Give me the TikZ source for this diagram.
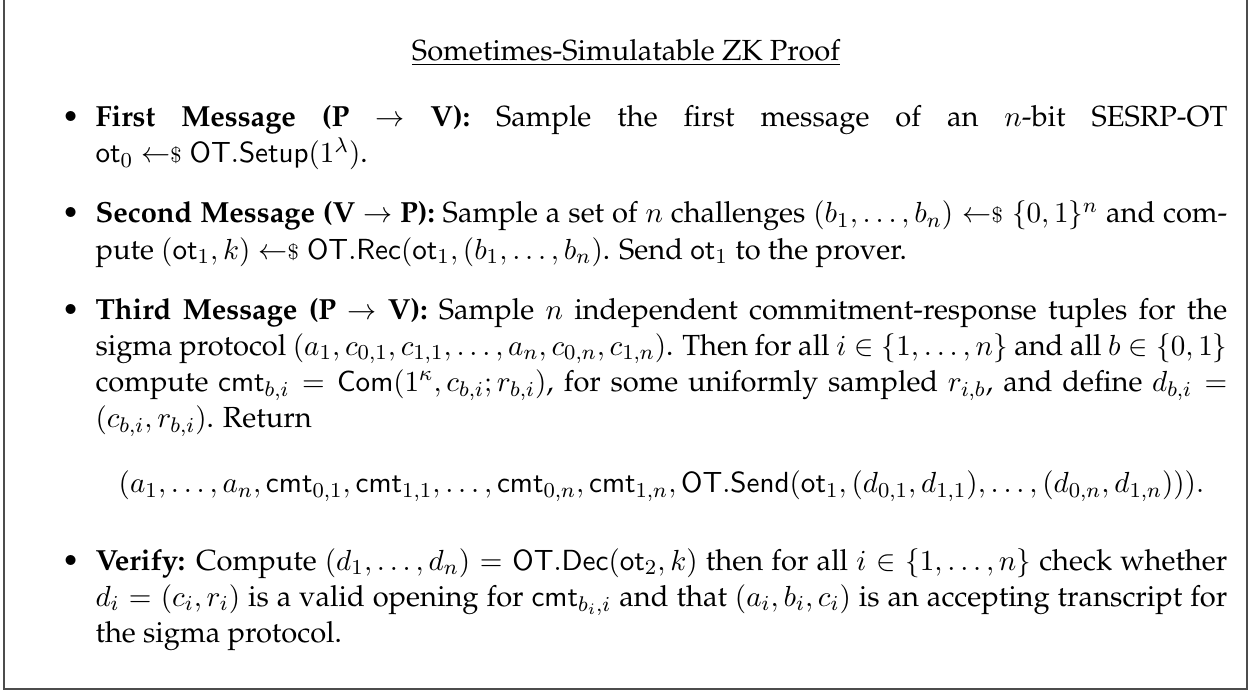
\documentclass[tikz,border=0pt,11pt]{standalone}
\usepackage[T1]{fontenc}
\renewcommand{\rmdefault}{ppl}
\newcommand{\smpl}{\mathrel{\leftarrow\mkern-5mu{\scriptstyle\$}}}
\tikzset{frame/.style={draw=black!70, line width=0.7pt}}
\begin{document}
\begin{tikzpicture}
\useasboundingbox (0,0) rectangle (471.6pt,261.6pt);
\draw[frame] (1.5pt,280pt) -- (1.5pt,2.26pt) -- (469.3pt,2.26pt) -- (469.3pt,280pt);
\node[anchor=base, inner sep=0] (title) at (235.6pt,239.0pt) {\normalsize\underline{Sometimes-Simulatable ZK Proof}};
\node[anchor=base west, inner sep=0] (body) at (15.75pt,213.9pt) {%
\begin{minipage}[t]{446pt}\normalsize
\setlength{\leftmargini}{20pt}\setlength{\labelsep}{6pt}
\begin{itemize}
\item \textbf{First Message (P $\rightarrow$ V):} Sample the first message of an $n$-bit SESRP-OT\linebreak $\mathsf{ot}_0 \smpl \mathsf{OT.Setup}(1^\lambda)$.
\item \textbf{Second Message (V $\rightarrow$ P):} Sample a set of $n$ challenges $(b_1,\ldots,b_n) \smpl \{0,1\}^n$ and com-\linebreak pute $(\mathsf{ot}_1,k)\smpl\mathsf{OT.Rec}(\mathsf{ot}_1,(b_1,\ldots,b_n)$. Send $\mathsf{ot}_1$ to the prover.
\item \textbf{Third Message (P $\rightarrow$ V):} Sample $n$ independent commitment-response tuples for the\linebreak sigma protocol $(a_1,c_{0,1},c_{1,1},\ldots,a_n,c_{0,n},c_{1,n})$. Then for all $i\in\{1,\ldots,n\}$ and all $b\in\{0,1\}$\linebreak compute $\mathsf{cmt}_{b,i} = \mathsf{Com}(1^\kappa, c_{b,i}; r_{b,i})$, for some uniformly sampled $r_{i,b}$, and define $d_{b,i} =$\linebreak $(c_{b,i},r_{b,i})$. Return
\[ (a_1,\ldots,a_n,\mathsf{cmt}_{0,1},\mathsf{cmt}_{1,1},\ldots,\mathsf{cmt}_{0,n},\mathsf{cmt}_{1,n},\mathsf{OT.Send}(\mathsf{ot}_1,(d_{0,1},d_{1,1}),\ldots,(d_{0,n},d_{1,n}))). \]
\item \textbf{Verify:} Compute $(d_1,\ldots,d_n) = \mathsf{OT.Dec}(\mathsf{ot}_2,k)$ then for all $i\in\{1,\ldots,n\}$ check whether\linebreak $d_i=(c_i,r_i)$ is a valid opening for $\mathsf{cmt}_{b_i,i}$ and that $(a_i,b_i,c_i)$ is an accepting transcript for\linebreak the sigma protocol.
\end{itemize}
\end{minipage}};
\end{tikzpicture}
\end{document}
